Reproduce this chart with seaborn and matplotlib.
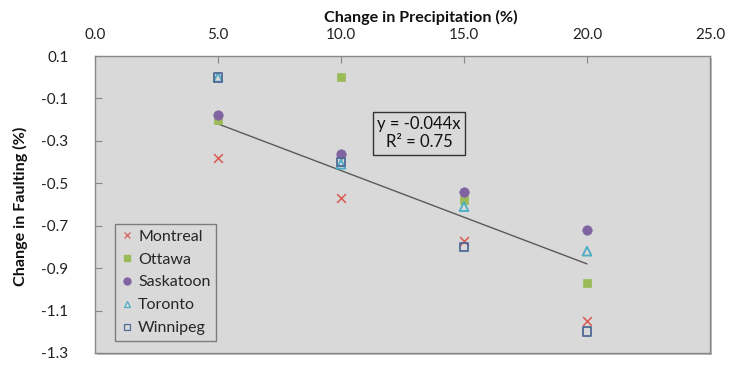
import numpy as np
import pandas as pd
import matplotlib
matplotlib.use("Agg")
import matplotlib.pyplot as plt
import seaborn as sns
from matplotlib.lines import Line2D
from matplotlib.patches import Rectangle

# Change in precipitation (%) and resulting change in faulting (%) per city
precip = [5, 10, 15, 20]
montreal = [-0.38, -0.57, -0.77, -1.15]
ottawa = [-0.20, 0.00, -0.58, -0.97]
saskatoon = [-0.18, -0.36, -0.54, -0.72]
toronto = [0.00, -0.41, -0.61, -0.82]
winnipeg = [0.00, -0.40, -0.80, -1.20]

cities = ["Montreal", "Ottawa", "Saskatoon", "Toronto", "Winnipeg"]
series = [montreal, ottawa, saskatoon, toronto, winnipeg]

# Linear trend through the origin
slope = -0.044
r_squared = 0.75
trend_x = [5, 20]

x_ticks = [0, 5, 10, 15, 20, 25]
y_ticks = [0.1, -0.1, -0.3, -0.5, -0.7, -0.9, -1.1, -1.3]

df = pd.DataFrame({
    "precip": np.tile(precip, len(cities)),
    "faulting": np.concatenate(series),
    "city": np.repeat(cities, len(precip)),
})

sns.set_theme(style="white")
plt.rcParams["font.family"] = ["Lato", "DejaVu Sans"]

styles = {
    "Montreal": dict(marker="x", color="#D9605A", filled=True, s=40),
    "Ottawa": dict(marker="s", color="#9BBB59", filled=True, s=38),
    "Saskatoon": dict(marker="o", color="#8064A2", filled=True, s=46),
    "Toronto": dict(marker="^", color="#4BACC6", filled=False, s=40),
    "Winnipeg": dict(marker="s", color="#4F6A96", filled=False, s=40),
}

fig = plt.figure(figsize=(7.29, 3.66), dpi=100)
ax = fig.add_axes([95 / 729, 1 - 353 / 366, 615 / 729, 297 / 366])
ax.set_facecolor("#D9D9D9")

# Trend line
ax.plot(trend_x, [slope * v for v in trend_x], color="#5A5A5A", lw=1.0, zorder=2)

for city in cities:
    st = styles[city]
    sub = df[df["city"] == city]
    if st["marker"] == "x":
        sns.scatterplot(data=sub, x="precip", y="faulting", ax=ax, marker="x",
                        color=st["color"], s=st["s"], linewidth=1.2, zorder=3)
    elif st["filled"]:
        sns.scatterplot(data=sub, x="precip", y="faulting", ax=ax, marker=st["marker"],
                        color=st["color"], edgecolor=st["color"], s=st["s"],
                        linewidth=0.5, zorder=3)
    else:
        sns.scatterplot(data=sub, x="precip", y="faulting", ax=ax, marker=st["marker"],
                        facecolor="none", edgecolor=st["color"], s=st["s"],
                        linewidth=1.3, zorder=4)

ax.set_xlim(0, 25)
ax.set_ylim(-1.3, 0.1)
ax.set_xticks(x_ticks)
ax.set_xticklabels([f"{v:.1f}" for v in x_ticks])
ax.set_yticks(y_ticks)
ax.set_yticklabels([f"{v:.1f}" for v in y_ticks])
ax.xaxis.tick_top()
ax.tick_params(axis="x", direction="in", length=5, width=0.8, color="#888888",
               pad=10, labelsize=11, labelcolor="#222222", top=True, bottom=False)
ax.tick_params(axis="y", direction="in", length=5, width=0.8, color="#888888",
               pad=19, labelsize=11, labelcolor="#222222", left=True)
for lbl in ax.get_yticklabels():
    lbl.set_horizontalalignment("right")
for sp in ax.spines.values():
    sp.set_color("#888888")
    sp.set_linewidth(1.0)
ax.set_xlabel("")
ax.set_ylabel("")

# Soft shadow along the right and bottom edges of the plot area
shadow = Rectangle((97 / 729, 1 - 355 / 366), 615 / 729, 297 / 366,
                   transform=fig.transFigure, facecolor="#BFBFBF", edgecolor="none",
                   zorder=-1)
fig.patches.append(shadow)

fig.text(421 / 729, 1 - 17 / 366, "Change in Precipitation (%)", ha="center",
         va="center", fontsize=11.6, fontweight="bold", color="#111111")
fig.text(20 / 729, 1 - 206 / 366, "Change in Faulting (%)", ha="center",
         va="center", rotation=90, fontsize=11.6, fontweight="bold", color="#111111")

# Regression annotation
ax.text(13.17, -0.265, f"y = {slope}x\nR² = {r_squared:.2f}", ha="center", va="center",
        fontsize=12, color="#111111", linespacing=1.15,
        bbox=dict(boxstyle="square,pad=0.25", facecolor="#D9D9D9",
                  edgecolor="#333333", linewidth=1.0))

handles = []
for city in cities:
    st = styles[city]
    if st["marker"] == "x":
        h = Line2D([], [], ls="none", marker="x", color=st["color"], markersize=5,
                   markeredgewidth=0.9)
    elif st["filled"]:
        h = Line2D([], [], ls="none", marker=st["marker"], color=st["color"],
                   markersize=5)
    else:
        h = Line2D([], [], ls="none", marker=st["marker"], markerfacecolor="none",
                   markeredgecolor=st["color"], markersize=5, markeredgewidth=0.9)
    handles.append(h)

leg = ax.legend(handles, cities, loc="lower left",
                bbox_to_anchor=(20 / 615, 12 / 297), fontsize=11.5, frameon=True,
                fancybox=False, handlelength=0.8, handletextpad=0.3,
                labelspacing=0.55, borderpad=0.35, borderaxespad=0)
leg.get_frame().set_facecolor("#D9D9D9")
leg.get_frame().set_edgecolor("#666666")
leg.get_frame().set_linewidth(1.0)

fig.savefig("out.png", dpi=100)
